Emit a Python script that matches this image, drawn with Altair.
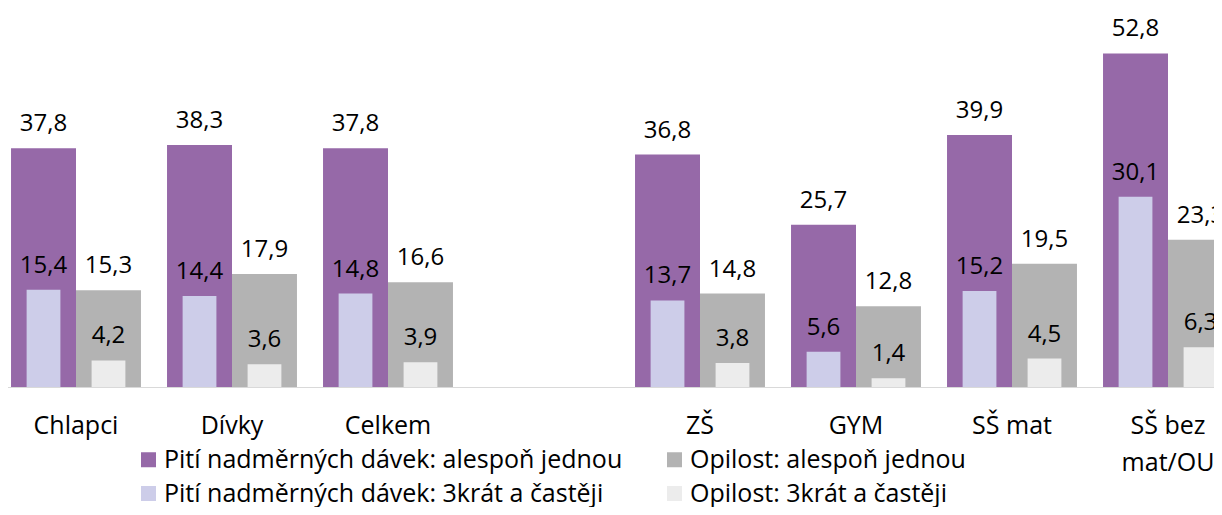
import altair as alt
import pandas as pd

categories = ["Chlapci", "Dívky", "Celkem", " ", "ZŠ", "GYM", "SŠ mat", "SŠ bez mat/OU"]
groups = ["Chlapci", "Dívky", "Celkem", "ZŠ", "GYM", "SŠ mat", "SŠ bez mat/OU"]

series_names = [
    "Pití nadměrných dávek: alespoň jednou",
    "Pití nadměrných dávek: 3krát a častěji",
    "Opilost: alespoň jednou",
    "Opilost: 3krát a častěji",
]
series_colors = ["#9669a8", "#cdcde9", "#b3b3b3", "#ececec"]

piti_alespon = [37.8, 38.3, 37.8, 36.8, 25.7, 39.9, 52.8]
opilost_alespon = [15.3, 17.9, 16.6, 14.8, 12.8, 19.5, 23.3]
piti_3x = [15.4, 14.4, 14.8, 13.7, 5.6, 15.2, 30.1]
opilost_3x = [4.2, 3.6, 3.9, 3.8, 1.4, 4.5, 6.3]

rows = []
for vals, name, pair, kind in [
    (piti_alespon, series_names[0], "A", "wide"),
    (opilost_alespon, series_names[2], "B", "wide"),
    (piti_3x, series_names[1], "A", "narrow"),
    (opilost_3x, series_names[3], "B", "narrow"),
]:
    for g, v in zip(groups, vals):
        rows.append({"cat": g, "series": name, "pair": pair, "kind": kind,
                     "value": v, "label": f"{v:.1f}".replace(".", ",")})
df = pd.DataFrame(rows)

FONT = "Open Sans"
PLOT_H = 379

x_enc = alt.X(
    "cat:N",
    scale=alt.Scale(domain=categories, range=[-10, 1238], paddingInner=0.167, paddingOuter=0.0835),
    axis=alt.Axis(
        title=None, ticks=False, domain=True, domainColor="#d9d9d9", domainWidth=1,
        offset=-120,
        labelAngle=0, labelFont=FONT, labelFontSize=25, labelColor="#000000",
        labelPadding=26, labelLineHeight=37, labelOverlap=False, labelLimit=0,
        labelExpr="datum.value == 'SŠ bez mat/OU' ? ['SŠ bez', 'mat/OU'] : datum.value",
    ),
)
y_enc = alt.Y("value:Q", scale=alt.Scale(domain=[0, 60], range=[PLOT_H, 0]), axis=None)
color_enc = alt.Color(
    "series:N",
    scale=alt.Scale(domain=series_names, range=series_colors),
    legend=alt.Legend(
        title=None, orient="none", legendX=128, legendY=439, columns=2,
        symbolType="square", symbolSize=225, symbolStrokeWidth=0,
        labelFont=FONT, labelFontSize=25, labelColor="#000000", labelLimit=0,
        labelOffset=3, columnPadding=39, rowPadding=8, padding=0,
    ),
)

off_wide = alt.XOffset("pair:N", scale=alt.Scale(domain=["A", "B"], paddingInner=0, paddingOuter=0))
off_narrow = alt.XOffset("pair:N", scale=alt.Scale(domain=["A", "B"], paddingInner=0.48, paddingOuter=0.24))

wide = alt.Chart(df).transform_filter(alt.datum.kind == "wide")
narrow = alt.Chart(df).transform_filter(alt.datum.kind == "narrow")

text_style = dict(font=FONT, fontSize=24, color="#000000", baseline="alphabetic", dy=-17, clip=True)

wide_layer = alt.layer(
    wide.mark_bar(clip=True).encode(x=x_enc, xOffset=off_wide, y=y_enc, color=color_enc),
    wide.mark_text(**text_style).encode(x=x_enc, xOffset=off_wide, y=y_enc, text="label:N"),
)
narrow_layer = alt.layer(
    narrow.mark_bar(clip=True).encode(x=x_enc, xOffset=off_narrow, y=y_enc, color=color_enc),
    narrow.mark_text(**text_style).encode(x=x_enc, xOffset=off_narrow, y=y_enc, text="label:N"),
)

chart = (
    alt.layer(wide_layer, narrow_layer)
    .resolve_scale(xOffset="independent")
    .properties(
        width=1206, height=499, padding=0, background="#ffffff",
        autosize=alt.AutoSizeParams(type="none"),
    )
    .configure_view(stroke=None)
)

chart.save("out.html", embed_options={"renderer": "svg", "actions": False})
